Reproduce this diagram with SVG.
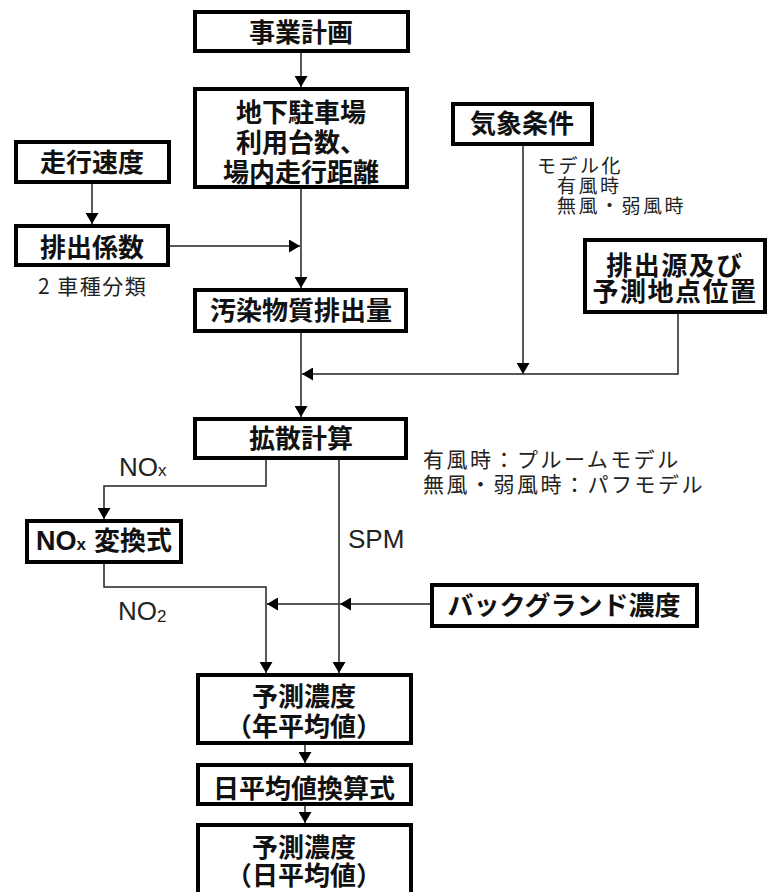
<svg xmlns="http://www.w3.org/2000/svg" width="768" height="892" viewBox="0 0 768 892">
<style>
.box{fill:#fff;stroke:#000;stroke-width:4}
.bt{font-family:"Noto Sans CJK JP",sans-serif;font-weight:bold;font-size:26px;fill:#111;text-anchor:middle}
.lt{font-family:"Noto Sans CJK JP",sans-serif;font-size:21px;fill:#222}
.ls{font-family:"Noto Sans CJK JP",sans-serif;font-size:19px;fill:#222;letter-spacing:2.5px}
.la{font-family:"Liberation Sans",sans-serif;font-size:26px;fill:#222}
.ln{fill:none;stroke:#222;stroke-width:1.5}
.ar{marker-end:url(#ah)}
</style>
<defs>
<marker id="ah" markerUnits="userSpaceOnUse" markerWidth="12" markerHeight="13" refX="11" refY="6.5" orient="auto">
<path d="M0,0 L11,6.5 L0,13 Z" fill="#000"/>
</marker>
</defs>
<rect width="768" height="892" fill="#fff"/>
<g id="connectors">
<path class="ln ar" d="M301,51 V87"/>
<path class="ln ar" d="M92,182 V224"/>
<path class="ln ar" d="M168,246 H300"/>
<path class="ln ar" d="M301,187 V288"/>
<path class="ln ar" d="M301,331 V417"/>
<path class="ln ar" d="M523,144 V374"/>
<path class="ln ar" d="M678,312 V374 H302"/>
<path class="ln ar" d="M266,458 V486 H104 V519"/>
<path class="ln ar" d="M339,458 V673"/>
<path class="ln ar" d="M104,562 V587 H266 V673"/>
<path class="ln ar" d="M430,604 H340"/>
<path class="ln ar" d="M339,604 H267"/>
<path class="ln ar" d="M305,743 V763"/>
<path class="ln ar" d="M305,804 V823"/>
</g>
<g id="n1"><rect class="box" x="195" y="12" width="213" height="39"/><text class="bt" x="301" y="42">事業計画</text></g>
<g id="n2"><rect class="box" x="195" y="89" width="212" height="98"/><text class="bt" x="301" y="122">地下駐車場</text><text class="bt" x="301" y="152">利用台数、</text><text class="bt" x="301" y="182">場内走行距離</text></g>
<g id="n3"><rect class="box" x="16" y="142" width="153" height="40"/><text class="bt" x="92" y="172">走行速度</text></g>
<g id="n4"><rect class="box" x="16" y="226" width="152" height="39"/><text class="bt" x="92" y="257">排出係数</text><text class="lt" x="38" y="294" letter-spacing="1.5">2 車種分類</text></g>
<g id="n5"><rect class="box" x="195" y="290" width="211" height="41"/><text class="bt" x="301" y="320">汚染物質排出量</text></g>
<g id="n6"><rect class="box" x="453" y="104" width="139" height="40"/><text class="bt" x="522" y="133">気象条件</text>
<text class="ls" x="537" y="173">モデル化</text><text class="ls" x="557" y="193">有風時</text><text class="ls" x="557" y="213">無風・弱風時</text></g>
<g id="n7"><rect class="box" x="585" y="240" width="180" height="72"/><text class="bt" x="675" y="275" font-size="25" letter-spacing="1.5">排出源及び</text><text class="bt" x="675" y="301" font-size="25" letter-spacing="1.5">予測地点位置</text></g>
<g id="n8"><rect class="box" x="195" y="419" width="211" height="39"/><text class="bt" x="301" y="448">拡散計算</text>
<text class="lt" x="423" y="467" letter-spacing="2.5">有風時：プルームモデル</text><text class="lt" x="423" y="492" letter-spacing="2.5">無風・弱風時：パフモデル</text></g>
<g id="lbls"><text class="la" x="119" y="476">NO<tspan font-size="17">x</tspan></text>
<text class="la" x="348" y="548">SPM</text>
<text class="la" x="118" y="620">NO<tspan font-size="17" dy="2">2</tspan></text></g>
<g id="n9"><rect class="box" x="27" y="521" width="154" height="41"/><text font-family="Liberation Sans,sans-serif" font-weight="bold" font-size="27" fill="#111" x="36" y="550">NO<tspan font-size="17">x</tspan></text><text class="bt" x="133" y="550">変換式</text></g>
<g id="n10"><rect class="box" x="432" y="585" width="265" height="41"/><text class="bt" x="564" y="615">バックグランド濃度</text></g>
<g id="n11"><rect class="box" x="198" y="675" width="213" height="68"/><text class="bt" x="304" y="706">予測濃度</text><text class="bt" x="304" y="736">（年平均値）</text></g>
<g id="n12"><rect class="box" x="198" y="765" width="213" height="39"/><text class="bt" x="304" y="798">日平均値換算式</text></g>
<g id="n13"><rect class="box" x="198" y="825" width="213" height="80"/><text class="bt" x="304" y="857">予測濃度</text><text class="bt" x="304" y="885">（日平均値）</text></g>
</svg>
